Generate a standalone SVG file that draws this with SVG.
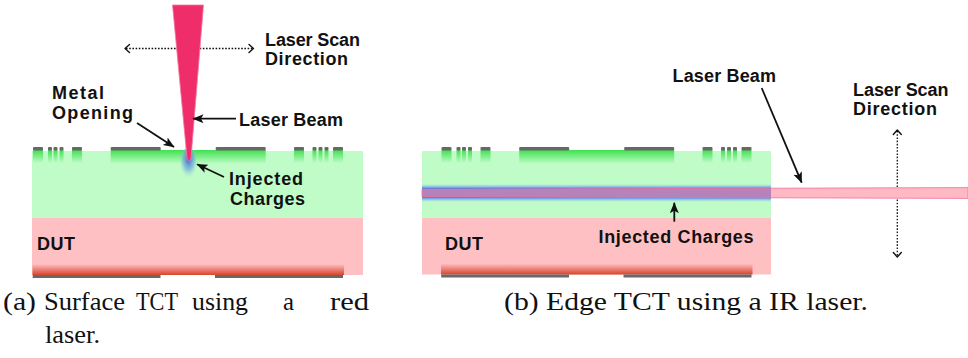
<svg xmlns="http://www.w3.org/2000/svg" xmlns:xlink="http://www.w3.org/1999/xlink" width="968" height="358" viewBox="0 0 968 358">
  <style>
    .lbl { font-family: "Liberation Sans", Arial, sans-serif; font-weight: bold; font-size: 18px; fill: #111; }
    .cap { font-family: "Liberation Serif", "Times New Roman", serif; font-size: 26px; fill: #111; }
    .bulk { fill: #c0fcc8; }
    .dut { fill: #ffc0c4; }
    .metal { fill: #686868; }
    .implant { fill: url(#implantGrad); }
    .backside { fill: url(#backGrad); }
    .conn { stroke: #111; stroke-width: 1.8; fill: none; marker-end: url(#head); }
    .scan { stroke: #111; stroke-width: 1.3; stroke-dasharray: 1.6 1.6; fill: none; }
    .chev { stroke: #111; stroke-width: 1.4; fill: none; stroke-linecap: round; stroke-linejoin: round; }
  </style>
  <defs>
    <linearGradient id="implantGrad" x1="0" y1="0" x2="0" y2="1">
      <stop offset="0" stop-color="#3fe050"/>
      <stop offset="1" stop-color="#c0fcc8"/>
    </linearGradient>
    <linearGradient id="backGrad" x1="0" y1="0" x2="0" y2="1">
      <stop offset="0" stop-color="#ffc0c4"/>
      <stop offset="1" stop-color="#d9442a"/>
    </linearGradient>
    <radialGradient id="glowGrad" cx="0.5" cy="0.4" r="0.6">
      <stop offset="0" stop-color="#3a64d8" stop-opacity="0.95"/>
      <stop offset="0.55" stop-color="#6fa6e0" stop-opacity="0.6"/>
      <stop offset="1" stop-color="#c0fcc8" stop-opacity="0"/>
    </radialGradient>
    <linearGradient id="sheetGrad" x1="0" y1="0" x2="0" y2="1">
      <stop offset="0" stop-color="#9fd0e8" stop-opacity="0"/>
      <stop offset="0.15" stop-color="#8ab8ea" stop-opacity="0.9"/>
      <stop offset="0.27" stop-color="#4676e0"/>
      <stop offset="0.73" stop-color="#4676e0"/>
      <stop offset="0.85" stop-color="#8ab8ea" stop-opacity="0.9"/>
      <stop offset="1" stop-color="#9fd0e8" stop-opacity="0"/>
    </linearGradient>
    <marker id="head" markerUnits="userSpaceOnUse" markerWidth="12" markerHeight="10" refX="10.5" refY="4.5" orient="auto">
      <path d="M0,0 L11,4.5 L0,9 L2.5,4.5 Z" fill="#111"/>
    </marker>

    <!-- front-side metallisation and implants -->
    <g id="topMetal">
      <rect class="implant" x="33" y="150" width="10" height="13"/>
      <rect class="implant" x="48" y="150" width="4" height="13"/>
      <rect class="implant" x="53.5" y="150" width="4" height="13"/>
      <rect class="implant" x="59.5" y="150" width="4" height="13"/>
      <rect class="implant" x="72" y="150" width="10" height="13"/>
      <rect class="implant" x="110.7" y="150" width="155" height="14"/>
      <rect class="implant" x="294" y="150" width="10" height="13"/>
      <rect class="implant" x="312.5" y="150" width="4" height="13"/>
      <rect class="implant" x="318.5" y="150" width="4" height="13"/>
      <rect class="implant" x="324.5" y="150" width="4" height="13"/>
      <rect class="implant" x="333" y="150" width="10" height="13"/>
      <rect class="metal" x="33" y="147" width="10" height="3.5" rx="1"/>
      <rect class="metal" x="48" y="147" width="4" height="3.5" rx="1"/>
      <rect class="metal" x="53.5" y="147" width="4" height="3.5" rx="1"/>
      <rect class="metal" x="59.5" y="147" width="4" height="3.5" rx="1"/>
      <rect class="metal" x="72" y="147" width="10" height="3.5" rx="1"/>
      <rect class="metal" x="110.7" y="147" width="50" height="3.5" rx="1"/>
      <rect class="metal" x="215.7" y="147" width="50" height="3.5" rx="1"/>
      <rect class="metal" x="294" y="147" width="10" height="3.5" rx="1"/>
      <rect class="metal" x="312.5" y="147" width="4" height="3.5" rx="1"/>
      <rect class="metal" x="318.5" y="147" width="4" height="3.5" rx="1"/>
      <rect class="metal" x="324.5" y="147" width="4" height="3.5" rx="1"/>
      <rect class="metal" x="333" y="147" width="10" height="3.5" rx="1"/>
    </g>
    <!-- back-side implant and contacts -->
    <g id="backMetal">
      <rect class="backside" x="32.5" y="264" width="311.5" height="11"/>
      <rect class="metal" x="32.7" y="275" width="127.8" height="3"/>
      <rect class="metal" x="215" y="275" width="128" height="3"/>
    </g>
  </defs>

  <!-- (a) surface illumination -->
  <g id="sensor-a">
    <rect class="bulk" x="32" y="151" width="331" height="67"/>
    <rect class="dut" x="32" y="218" width="331" height="57"/>
    <use xlink:href="#topMetal"/>
    <use xlink:href="#backMetal"/>
    <text class="lbl" x="37" y="250" textLength="38">DUT</text>
  </g>

  <g id="scan-a">
    <line class="scan" x1="126" y1="48.5" x2="252.5" y2="48.5"/>
    <path class="chev" d="M129.5,44.5 L125,48.5 L129.5,52.5"/>
    <path class="chev" d="M249,44.5 L253.5,48.5 L249,52.5"/>
  </g>

  <g id="beam-a">
    <ellipse cx="188.5" cy="163" rx="8.5" ry="16" fill="url(#glowGrad)"/>
    <path d="M172.5,5 L203.5,5 L191,158 Q189,164.5 187,158 Z" fill="#ee2d6a" stroke="#f57aa0" stroke-width="0.8"/>
  </g>

  <g id="labels-a">
    <text class="lbl" x="265" y="45.5" textLength="95">Laser Scan</text>
    <text class="lbl" x="265" y="65" textLength="83">Direction</text>
    <text class="lbl" x="52" y="99" textLength="52">Metal</text>
    <text class="lbl" x="52" y="119" textLength="81">Opening</text>
    <text class="lbl" x="239" y="126" textLength="104">Laser Beam</text>
    <text class="lbl" x="229" y="185" textLength="74">Injected</text>
    <text class="lbl" x="230" y="205" textLength="75">Charges</text>
  </g>

  <!-- (b) edge illumination -->
  <g id="sensor-b">
    <rect class="bulk" x="422" y="151" width="349" height="67"/>
    <rect class="dut" x="422" y="218" width="349" height="56.5"/>
    <use xlink:href="#topMetal" transform="translate(408.5,0)"/>
    <use xlink:href="#backMetal" transform="translate(408.5,-0.5)"/>
    <rect x="422" y="184" width="349" height="18" fill="url(#sheetGrad)"/>
    <text class="lbl" x="445" y="250" textLength="38">DUT</text>
  </g>

  <g id="scan-b">
    <line class="scan" x1="897.3" y1="131" x2="897.3" y2="187"/>
    <line class="scan" x1="897.3" y1="199.5" x2="897.3" y2="256"/>
    <path class="chev" d="M893.3,134.5 L897.3,130 L901.3,134.5"/>
    <path class="chev" d="M893.3,252.5 L897.3,257 L901.3,252.5"/>
  </g>

  <g id="beam-b">
    <path d="M422,189.3 L968,187.6 L968,198.4 L422,196.7 Z" fill="#ff8a9e" fill-opacity="0.6" stroke="#f0709a" stroke-width="0.8"/>
  </g>

  <g id="labels-b">
    <text class="lbl" x="672.5" y="81.7" textLength="103.5">Laser Beam</text>
    <text class="lbl" x="853" y="95.7" textLength="95.5">Laser Scan</text>
    <text class="lbl" x="853" y="115" textLength="84">Direction</text>
    <text class="lbl" x="598.5" y="242.5" textLength="155">Injected Charges</text>
  </g>

  <!-- pointer arrows -->
  <g id="connectors">
    <line class="conn" x1="137" y1="123" x2="174" y2="147"/>
    <line class="conn" x1="236" y1="118.7" x2="193" y2="118.7"/>
    <line class="conn" x1="224" y1="177" x2="197" y2="164.3"/>
    <line class="conn" x1="761.7" y1="88" x2="801.7" y2="182.7"/>
    <line class="conn" x1="674.3" y1="221.7" x2="674.3" y2="202.7"/>
  </g>

  <!-- sub-figure captions -->
  <g id="captions">
    <text class="cap" x="3" y="310" textLength="33" lengthAdjust="spacingAndGlyphs">(a)</text>
    <text class="cap" x="44" y="310" textLength="81" lengthAdjust="spacingAndGlyphs">Surface</text>
    <text class="cap" x="136" y="310" textLength="42" lengthAdjust="spacingAndGlyphs">TCT</text>
    <text class="cap" x="192" y="310" textLength="56" lengthAdjust="spacingAndGlyphs">using</text>
    <text class="cap" x="283" y="310" textLength="11" lengthAdjust="spacingAndGlyphs">a</text>
    <text class="cap" x="330" y="310" textLength="39" lengthAdjust="spacingAndGlyphs">red</text>
    <text class="cap" x="45" y="343" textLength="55" lengthAdjust="spacingAndGlyphs">laser.</text>
    <text class="cap" x="504" y="310" textLength="364" lengthAdjust="spacingAndGlyphs">(b) Edge TCT using a IR laser.</text>
  </g>
</svg>
